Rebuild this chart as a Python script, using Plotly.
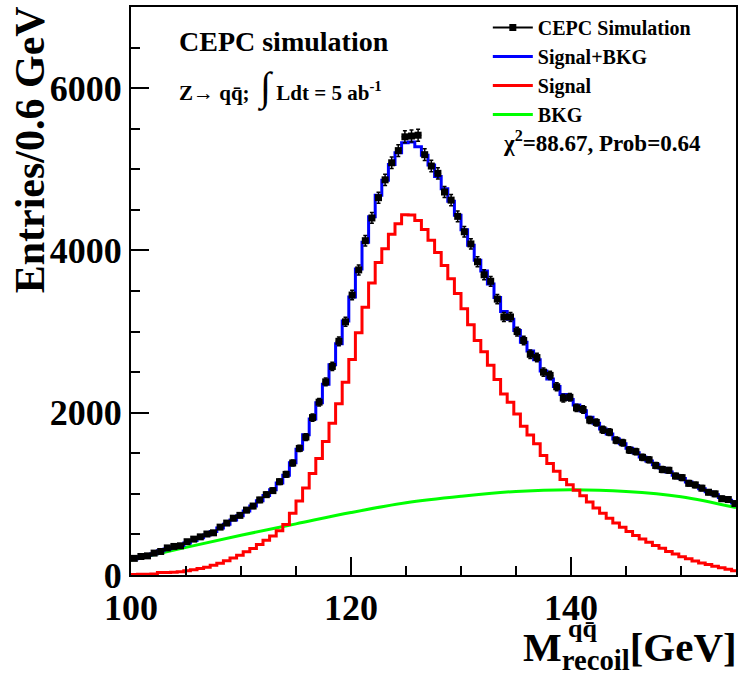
import numpy as np
import plotly.graph_objects as go

# ---------------- data ----------------
BIN_START = 100.0
BIN_WIDTH = 0.6

# CEPC simulation (entries per 0.6 GeV bin)
data_counts = [205, 228, 236, 270, 290, 334, 352, 360, 410, 442,
               470, 505, 520, 590, 640, 700, 735, 800, 850, 925,
               990, 1040, 1150, 1240, 1380, 1560, 1700, 1940, 2130, 2380,
               2570, 2880, 3120, 3450, 3760, 4120, 4400, 4650, 4870, 5080,
               5230, 5400, 5410, 5420, 5180, 5040, 4950, 4720, 4620, 4420,
               4230, 4080, 3860, 3700, 3620, 3400, 3180, 3180, 3000, 2890,
               2720, 2680, 2500, 2460, 2320, 2180, 2190, 2060, 2040, 1910,
               1880, 1790, 1760, 1660, 1630, 1540, 1520, 1450, 1420, 1350,
               1300, 1290, 1220, 1200, 1130, 1110, 1070, 1020, 1000, 940,
               930, 880]

# Signal+BKG fit (per bin)
sig_bkg = [200, 221, 242, 262, 299, 319, 341, 364, 395, 425,
           458, 494, 535, 578, 626, 677, 731, 789, 849, 914,
           981, 1052, 1133, 1228, 1383, 1549, 1728, 1922, 2124, 2351,
           2592, 2849, 3131, 3427, 3772, 4101, 4416, 4680, 4864, 5059,
           5203, 5328, 5336, 5278, 5174, 5052, 4911, 4761, 4605, 4435,
           4254, 4064, 3878, 3747, 3586, 3420, 3247, 3152, 3014, 2867,
           2761, 2654, 2514, 2416, 2323, 2225, 2163, 2095, 2025, 1944,
           1869, 1800, 1738, 1676, 1619, 1562, 1506, 1455, 1406, 1360,
           1317, 1270, 1230, 1188, 1145, 1102, 1063, 1025, 988, 954,
           920, 886]

# Signal (per bin)
signal = [6, 8, 10, 12, 30, 32, 35, 40, 52, 64,
          79, 97, 120, 145, 175, 208, 244, 285, 328, 376,
          427, 481, 545, 623, 761, 911, 1073, 1250, 1435, 1645,
          1870, 2110, 2375, 2655, 2985, 3300, 3600, 3850, 4020, 4200,
          4330, 4440, 4438, 4370, 4257, 4125, 3975, 3815, 3650, 3470,
          3280, 3083, 2890, 2752, 2584, 2410, 2230, 2128, 1984, 1834,
          1726, 1616, 1474, 1374, 1278, 1178, 1113, 1045, 977, 899,
          826, 760, 700, 641, 587, 536, 488, 445, 403, 365,
          330, 291, 258, 226, 199, 172, 149, 128, 107, 89,
          71, 53]

# BKG (smooth function, sampled)
bkg_x = [100, 105, 110, 115, 120, 125, 130, 135, 140, 145, 150, 155]
bkg_y = [185, 340, 490, 630, 770, 890, 970, 1030, 1050, 1030, 965, 830]

x_ticks = [100, 120, 140]
y_ticks = [0, 2000, 4000, 6000]

# ---------------- geometry ----------------
n = len(data_counts)
edges = BIN_START + BIN_WIDTH * np.arange(n + 1)
centers = edges[:-1] + BIN_WIDTH / 2

FONT = "Liberation Serif"
W, H = 741, 677
ML, MR, MT, MB = 131, 3, 7, 102
PW, PH = W - ML - MR, H - MT - MB


def px_x(p):
    return (p - ML) / PW


def px_y(p):
    return (H - MB - p) / PH


fig = go.Figure()

fig.add_trace(go.Scatter(x=bkg_x, y=bkg_y, mode="lines", line_shape="spline",
                         line=dict(color="#00ff00", width=3), name="BKG",
                         legendrank=4))
fig.add_trace(go.Scatter(x=edges, y=list(signal) + [signal[-1]], mode="lines",
                         line_shape="hv", line=dict(color="#ff0000", width=3),
                         name="Signal", legendrank=3))
fig.add_trace(go.Scatter(x=edges, y=list(sig_bkg) + [sig_bkg[-1]], mode="lines",
                         line_shape="hv", line=dict(color="#0000ff", width=3),
                         name="Signal+BKG", legendrank=2))
fig.add_trace(go.Scatter(x=centers, y=data_counts, mode="markers",
                         marker=dict(symbol="square", size=7, color="black"),
                         error_y=dict(type="data", array=np.sqrt(data_counts),
                                      thickness=1.5, width=2, color="black"),
                         error_x=dict(type="constant", value=BIN_WIDTH / 2,
                                      thickness=1, width=0, color="black"),
                         name="CEPC Simulation", showlegend=False))
# legend entry for data (line + marker like ROOT "lep")
fig.add_trace(go.Scatter(x=[None], y=[None], mode="lines+markers",
                         marker=dict(symbol="square", size=7, color="black"),
                         line=dict(color="black", width=2),
                         name="CEPC Simulation", legendrank=1))

axis_common = dict(showline=True, linewidth=2, linecolor="black", mirror=True,
                   ticks="inside", tickcolor="black", tickwidth=2, ticklen=18,
                   showgrid=False, zeroline=False,
                   tickfont=dict(family=FONT, size=36, color="black", weight="bold"))

fig.update_xaxes(range=[100, 155], tickvals=x_ticks,
                 minor=dict(dtick=5, ticks="inside", ticklen=9, tickwidth=2,
                            tickcolor="black", showgrid=False),
                 **axis_common)
fig.update_yaxes(range=[0, 7000], tickvals=y_ticks,
                 minor=dict(dtick=500, ticks="inside", ticklen=9, tickwidth=2,
                            tickcolor="black", showgrid=False),
                 **axis_common)

ann = []
# y title
ann.append(dict(text="Entries/0.6 GeV", textangle=-90, xref="paper", yref="paper",
                x=px_x(30), y=px_y(150), xanchor="center", yanchor="middle",
                showarrow=False, font=dict(family=FONT, size=42, color="black", weight="bold")))
# x title
ann.append(dict(text="M<sub>recoil</sub>[GeV]", xref="paper", yref="paper",
                x=px_x(741), y=px_y(650), xanchor="right", yanchor="middle",
                showarrow=False, font=dict(family=FONT, size=41, color="black", weight="bold")))
ann.append(dict(text="qq\u0304", xref="paper", yref="paper",
                x=px_x(584), y=px_y(628), xanchor="center", yanchor="middle",
                showarrow=False, font=dict(family=FONT, size=26, color="black", weight="bold")))
# labels
ann.append(dict(text="CEPC simulation", xref="paper", yref="paper",
                x=px_x(177), y=px_y(42), xanchor="left", yanchor="middle",
                showarrow=False, font=dict(family=FONT, size=28, color="black", weight="bold")))
ann.append(dict(text="Z\u2192 qq\u0304;  <span style='font-size:40px'>\u222b</span> Ldt = 5 ab<sup>-1</sup>",
                xref="paper", yref="paper",
                x=px_x(177), y=px_y(88), xanchor="left", yanchor="middle",
                showarrow=False, font=dict(family=FONT, size=21, color="black", weight="bold")))
ann.append(dict(text="\u03c7<sup>2</sup>=88.67, Prob=0.64", xref="paper", yref="paper",
                x=px_x(502), y=px_y(141), xanchor="left", yanchor="middle",
                showarrow=False, font=dict(family=FONT, size=23, color="black", weight="bold")))

fig.update_layout(
    width=W, height=H,
    margin=dict(l=ML, r=MR, t=MT, b=MB),
    paper_bgcolor="white", plot_bgcolor="white",
    annotations=ann,
    legend=dict(x=px_x(489), y=px_y(8), xanchor="left", yanchor="top",
                bgcolor="rgba(0,0,0,0)", borderwidth=0, traceorder="normal",
                font=dict(family=FONT, size=20, color="black", weight="bold"),
                itemwidth=40),
)

fig.write_html("out.html")
